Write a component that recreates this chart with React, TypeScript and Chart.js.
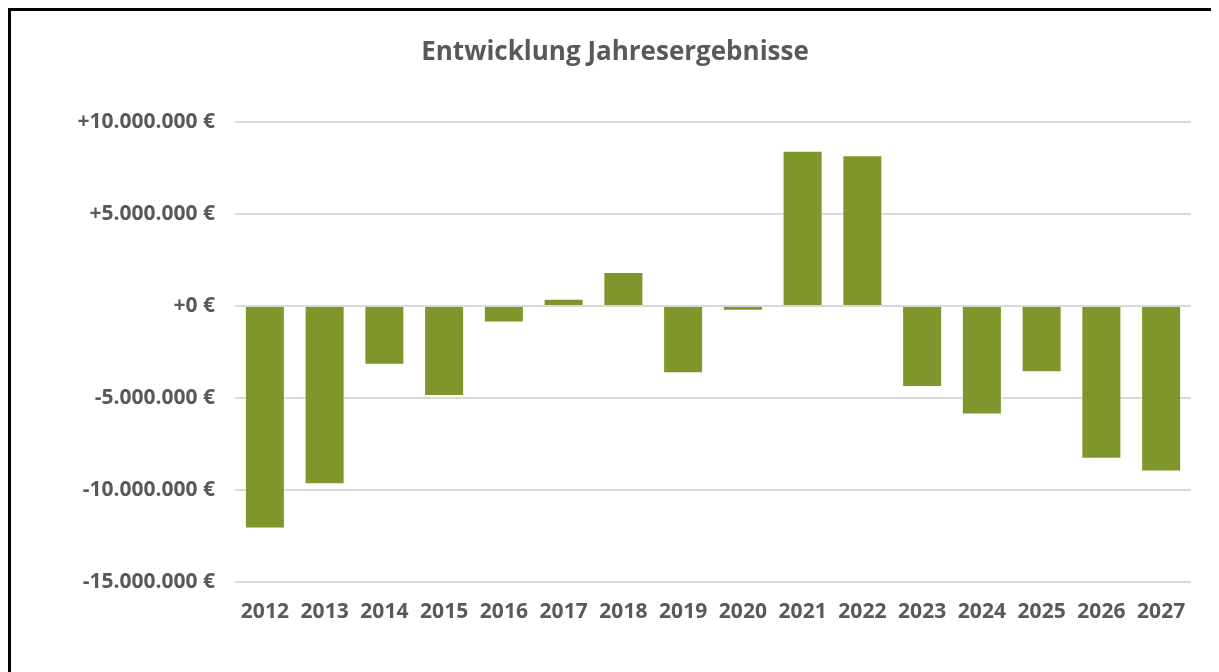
import React, { useEffect, useRef } from "react";
import { Chart, registerables } from "chart.js";

Chart.register(...registerables);

const years = ["2012", "2013", "2014", "2015", "2016", "2017", "2018", "2019", "2020", "2021", "2022", "2023", "2024", "2025", "2026", "2027"];
const results = [-12100000, -9700000, -3200000, -4900000, -900000, 400000, 1850000, -3650000, -250000, 8450000, 8200000, -4400000, -5900000, -3600000, -8300000, -9000000];
const yMin = -15000000;
const yMax = 10000000;
const yStep = 5000000;
const title = "Entwicklung Jahresergebnisse";

const FONT = "'Open Sans', sans-serif";
const TEXT = "#595959";

function fmt(v: number): string {
  const s = Math.abs(v).toLocaleString("de-DE");
  return (v < 0 ? "-" : "+") + s + " €";
}

export default function App() {
  const ref = useRef<HTMLCanvasElement | null>(null);
  useEffect(() => {
    if (!ref.current) return;
    const chart = new Chart(ref.current, {
      type: "bar",
      data: {
        labels: years,
        datasets: [
          {
            data: results,
            backgroundColor: "#7F962B",
            borderColor: "rgba(255,255,255,0.5)",
            borderWidth: 1,
            categoryPercentage: 1,
            barPercentage: 0.67,
          },
        ],
      },
      options: {
        responsive: false,
        animation: false,
        layout: { padding: { left: 28, right: 28, top: 0, bottom: 29 } },
        plugins: {
          legend: { display: false },
          tooltip: { enabled: false },
          title: {
            display: true,
            text: title,
            color: TEXT,
            font: { family: FONT, size: 26, weight: "bold" },
            padding: { top: 26, bottom: 54 },
          },
        },
        scales: {
          x: {
            grid: { display: false, drawTicks: false },
            border: { display: false },
            ticks: { color: TEXT, font: { family: FONT, size: 21, weight: "bold" }, padding: 18, maxRotation: 0, autoSkip: false },
          },
          y: {
            min: yMin,
            max: yMax,
            afterFit: (s: any) => { s.width = 196; },
            grid: { color: "#D9D9D9", lineWidth: 2, drawTicks: false },
            border: { display: false },
            ticks: {
              stepSize: yStep,
              color: TEXT,
              padding: 20,
              font: { family: FONT, size: 21, weight: "bold" },
              callback: (v: any) => fmt(Number(v)),
            },
          },
        },
      },
    });
    return () => chart.destroy();
  }, []);
  return (
    <div style={{ borderLeft: "3px solid #000", borderTop: "3px solid #000", width: 1208, height: 661, background: "#fff" }}>
      <canvas ref={ref} width={1208} height={661} style={{ display: "block" }} />
    </div>
  );
}
